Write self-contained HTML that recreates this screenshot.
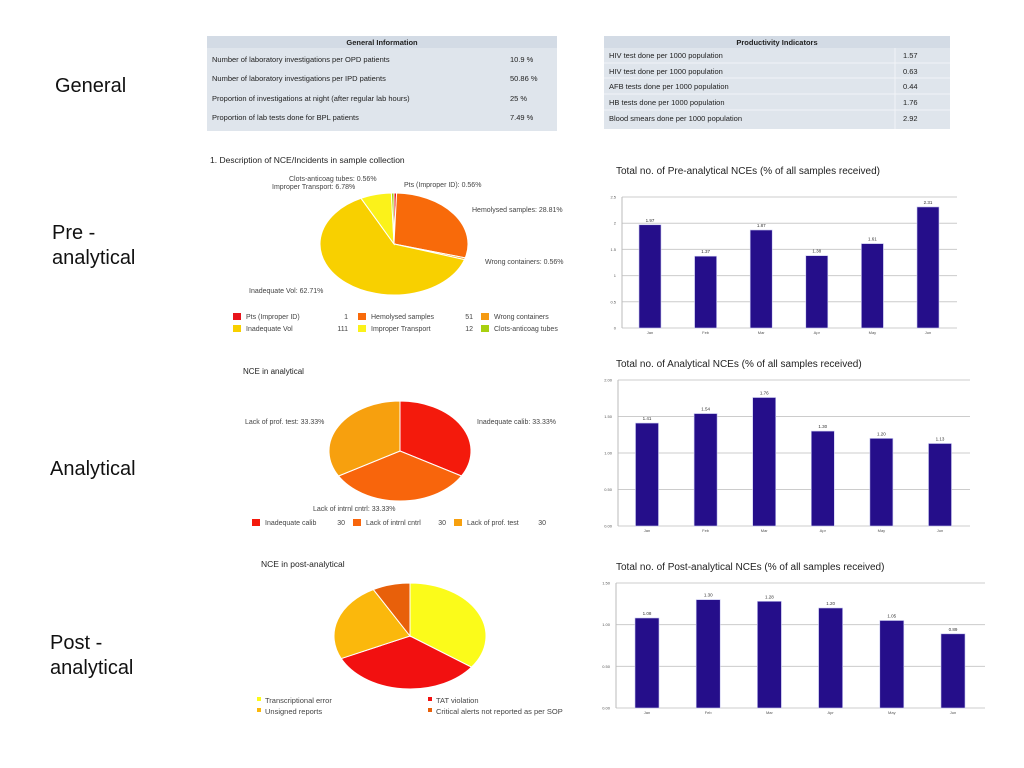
<!DOCTYPE html>
<html><head><meta charset="utf-8"><style>
body{margin:0;background:#fff;font-family:"Liberation Sans",sans-serif}
#root{position:relative;width:1024px;height:768px;overflow:hidden}
svg text{font-family:"Liberation Sans",sans-serif}
</style></head><body><div id="root">
<svg id="s" width="1024" height="768" xmlns="http://www.w3.org/2000/svg">
<g font-size="20" fill="#111">
<text x="55" y="92">General</text>
<text x="52" y="239">Pre -</text><text x="52" y="264">analytical</text>
<text x="50" y="475">Analytical</text>
<text x="50" y="649">Post -</text><text x="50" y="674">analytical</text>
</g>
<g font-size="7.5" fill="#222">
<rect x="207" y="36" width="350" height="95" fill="#dfe5ec"/>
<rect x="207" y="36" width="350" height="12" fill="#d3dbe5"/>
<text x="382" y="45" text-anchor="middle" font-weight="bold">General Information</text>
<text x="212" y="62">Number of laboratory investigations per OPD patients</text><text x="510" y="62">10.9 %</text>
<text x="212" y="81">Number of laboratory investigations per IPD patients</text><text x="510" y="81">50.86 %</text>
<text x="212" y="101">Proportion of investigations at night (after regular lab hours)</text><text x="510" y="101">25 %</text>
<text x="212" y="120">Proportion of lab tests done for BPL patients</text><text x="510" y="120">7.49 %</text>
</g>
<g font-size="7.5" fill="#222">
<rect x="604" y="36" width="346" height="93" fill="#dfe5ec"/>
<rect x="604" y="36" width="346" height="12" fill="#d3dbe5"/>
<line x1="895" y1="48" x2="895" y2="129" stroke="#f2f4f7"/>
<line x1="604" y1="63" x2="950" y2="63" stroke="#f2f4f7"/>
<line x1="604" y1="78" x2="950" y2="78" stroke="#f2f4f7"/>
<line x1="604" y1="94" x2="950" y2="94" stroke="#f2f4f7"/>
<line x1="604" y1="110" x2="950" y2="110" stroke="#f2f4f7"/>
<text x="777" y="45" text-anchor="middle" font-weight="bold">Productivity Indicators</text>
<text x="609" y="58">HIV test done per 1000 population</text><text x="903" y="58">1.57</text>
<text x="609" y="74">HIV test done per 1000 population</text><text x="903" y="74">0.63</text>
<text x="609" y="89">AFB tests done per 1000 population</text><text x="903" y="89">0.44</text>
<text x="609" y="105">HB tests done per 1000 population</text><text x="903" y="105">1.76</text>
<text x="609" y="121">Blood smears done per 1000 population</text><text x="903" y="121">2.92</text>
</g>
<g font-size="7" fill="#444">
<text x="210" y="163" font-size="8.5" fill="#222">1. Description of NCE/Incidents in sample collection</text>
<text x="289" y="181">Clots-anticoag tubes: 0.56%</text>
<text x="272" y="189">Improper Transport: 6.78%</text>
<text x="404" y="187">Pts (Improper ID): 0.56%</text>
<text x="472" y="212">Hemolysed samples: 28.81%</text>
<text x="485" y="264">Wrong containers: 0.56%</text>
<text x="249" y="293">Inadequate Vol: 62.71%</text>
</g>
<g font-size="7" fill="#444">
<text x="243" y="374" font-size="8" fill="#222">NCE in analytical</text>
<text x="245" y="424">Lack of prof. test: 33.33%</text>
<text x="477" y="424">Inadequate calib: 33.33%</text>
<text x="313" y="511">Lack of intrnl cntrl: 33.33%</text>
</g>
<text x="261" y="567" font-size="8.5" fill="#222">NCE in post-analytical</text>
<g font-size="10" fill="#222">
<text x="616" y="174">Total no. of Pre-analytical NCEs (% of all samples received)</text>
<text x="616" y="367">Total no. of Analytical NCEs (% of all samples received)</text>
<text x="616" y="570">Total no. of Post-analytical NCEs (% of all samples received)</text>
</g>
<g id="charts"></g>
</svg></div>
<script>
var months=["Jan","Feb","Mar","Apr","May","Jun"];
var preValues=[1.97,1.37,1.87,1.38,1.61,2.31];
var preTicks=["0","0.5","1","1.5","2","2.5"];
var anaValues=[1.41,1.54,1.76,1.30,1.20,1.13];
var anaTicks=["0.00","0.50","1.00","1.50","2.00"];
var postValues=[1.08,1.30,1.28,1.20,1.05,0.89];
var postTicks=["0.00","0.50","1.00","1.50"];
var pie1Labels=["Pts (Improper ID)","Hemolysed samples","Wrong containers","Inadequate Vol","Improper Transport","Clots-anticoag tubes"];
var pie1Values=[1,51,1,111,12,1];
var pie2Labels=["Inadequate calib","Lack of intrnl cntrl","Lack of prof. test"];
var pie2Values=[30,30,30];
var pie3Labels=["Transcriptional error","TAT violation","Unsigned reports","Critical alerts not reported as per SOP"];
var pie3Values=[35,33,24,8];
var NS="http://www.w3.org/2000/svg",root=document.getElementById("charts");
function mk(t,a,p){var e=document.createElementNS(NS,t);for(var k in a)e.setAttribute(k,a[k]);(p||root).appendChild(e);return e;}
function bar(values,ticks,x0,x1,yTop,yBot,c0,c1,bw,name){
 var g=mk("g",{});
 
 
 var maxV=parseFloat(ticks[ticks.length-1]);
 function y(v){return yBot-(v/maxV)*(yBot-yTop);}
 function x(i){return c0+i*(c1-c0)/(values.length-1);}
 mk("rect",{x:x0,y:yTop-4,width:x1-x0,height:yBot-yTop+16,fill:"#fff"},g);
 ticks.forEach(function(t){var v=parseFloat(t),yy=y(v);
  mk("line",{x1:x0,x2:x1,y1:yy,y2:yy,stroke:"#ccc","stroke-width":1},g);
  var tx=mk("text",{x:x0-6,y:yy+1.5,"font-size":4,fill:"#555","text-anchor":"end"},g);tx.textContent=t;});
 mk("line",{x1:x0,x2:x0,y1:yTop,y2:yBot,stroke:"#bbb"},g);
 values.forEach(function(v,i){
  var r=mk("rect",{x:x(i)-bw/2,y:y(v),width:bw,height:yBot-y(v),fill:"#250e8a",stroke:"#c8c8f0","stroke-width":0.6},g);
  
  
  var t=mk("text",{x:x(i),y:y(v)-3,"font-size":4.5,fill:"#333","text-anchor":"middle"},g);t.textContent=v.toFixed(2);
  var m=mk("text",{x:x(i),y:yBot+6,"font-size":4,fill:"#555","text-anchor":"middle"},g);m.textContent=months[i];
 });
}
bar(preValues,preTicks,622,957,197,328,650,928,22,"pre-analytical-bar-chart");
bar(anaValues,anaTicks,618,970,380,526,647,940,23,"analytical-bar-chart");
bar(postValues,postTicks,616,985,583,708,647,953,24,"post-analytical-bar-chart");
function pie(values,colors,cx,cy,rx,ry,name){
 var g=mk("g",{});
 
 
 var tot=values.reduce(function(a,b){return a+b},0),a=0;
 values.forEach(function(v,i){
  var a2=a+v/tot*2*Math.PI;
  var p1=[cx+rx*Math.sin(a),cy-ry*Math.cos(a)],p2=[cx+rx*Math.sin(a2),cy-ry*Math.cos(a2)];
  var large=(a2-a)>Math.PI?1:0;
  var p=mk("path",{d:"M"+cx+","+cy+" L"+p1+" A"+rx+","+ry+" 0 "+large+" 1 "+p2+" Z",fill:colors[i],stroke:"#fff","stroke-width":1},g);
  
  
  a=a2;});
}
pie(pie1Values,["#e8141b","#f86a0a","#f59a12","#f8d000","#fbf21a","#a8d010"],394,244,74,51,"pie-sample-collection");
pie(pie2Values,["#f41a0c","#f8650c","#f7a00e"],400,451,71,50,"pie-analytical");
pie(pie3Values,["#fbfb1a","#f21010","#fbb80c","#e8600a"],410,636,76,53,"pie-post-analytical");
function legend(items,name){
 var g=mk("g",{});
 
 
 items.forEach(function(it){
  mk("rect",{x:it[0],y:it[1]-6,width:it[5]||8,height:it[5]||7,fill:it[2]},g);
  var t=mk("text",{x:it[0]+(it[5]?it[5]+4:13),y:it[1],"font-size":it[6]||7,fill:"#444"},g);t.textContent=it[3];
  if(it[4]!==undefined){var c=mk("text",{x:it[7],y:it[1],"font-size":7,fill:"#444","text-anchor":"end"},g);c.textContent=it[4];}
 });
}
legend([[233,319,"#e8141b",pie1Labels[0],pie1Values[0],0,0,348],[358,319,"#f86a0a",pie1Labels[1],pie1Values[1],0,0,473],[481,319,"#f59a12",pie1Labels[2]],
 [233,331,"#f8d000",pie1Labels[3],pie1Values[3],0,0,348],[358,331,"#fbf21a",pie1Labels[4],pie1Values[4],0,0,473],[481,331,"#a8d010",pie1Labels[5]]],"legend-pie1");
legend([[252,525,"#f41a0c",pie2Labels[0],pie2Values[0],0,0,345],[353,525,"#f8650c",pie2Labels[1],pie2Values[1],0,0,446],[454,525,"#f7a00e",pie2Labels[2],pie2Values[2],0,0,546]],"legend-pie2");
legend([[257,703,"#fbfb1a",pie3Labels[0],undefined,4,7.5],[428,703,"#f21010",pie3Labels[1],undefined,4,7.5],
 [257,714,"#fbb80c",pie3Labels[2],undefined,4,7.5],[428,714,"#e8600a",pie3Labels[3],undefined,4,7.5]],"legend-pie3");
</script></body></html>
